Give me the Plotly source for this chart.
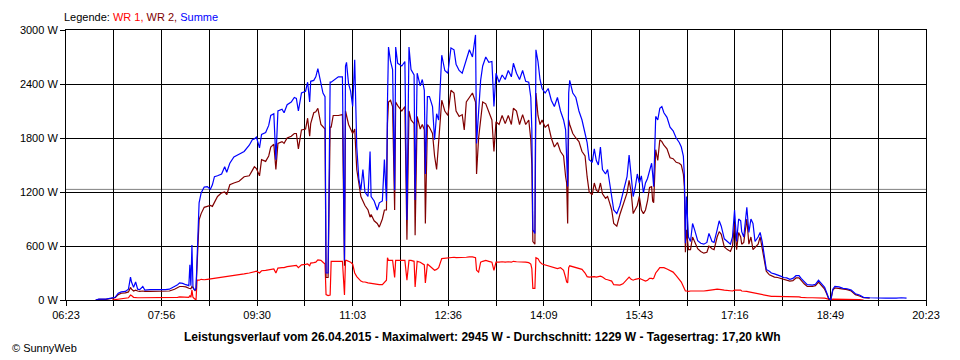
import plotly.graph_objects as go

DATE = "2015-04-26"

TIMES = [
    "06:52","06:55","07:02","07:08","07:11","07:14","07:17","07:21","07:24","07:26",
    "07:27","07:29","07:31","07:33","07:35","07:38","07:40","07:45","07:50","07:55",
    "08:00","08:04","08:09","08:12","08:14","08:17","08:20","08:23","08:24","08:25",
    "08:26","08:27","08:28","08:29","08:30","08:31","08:32","08:33","08:35","08:38",
    "08:41","08:44","08:46","08:48","08:51","08:55","08:58","09:00","09:03","09:07",
    "09:12","09:17","09:22","09:25","09:27","09:29","09:32","09:34","09:38","09:41",
    "09:43","09:46","09:48","09:50","09:54","09:56","09:59","10:03","10:06","10:08",
    "10:10","10:13","10:17","10:19","10:21","10:22","10:25","10:27","10:29","10:32",
    "10:34","10:36","10:37","10:39","10:41","10:42","10:44","10:49","10:53","10:55",
    "10:56","10:57","10:59","11:01","11:03","11:05","11:07","11:09","11:11","11:13",
    "11:15","11:18","11:20","11:21","11:24","11:27","11:29","11:32","11:34","11:36",
    "11:37","11:38","11:40","11:42","11:44","11:45","11:47","11:51","11:54","11:56",
    "11:58","12:00","12:03","12:04","12:06","12:09","12:11","12:13","12:14","12:16",
    "12:18","12:21","12:23","12:25","12:27","12:30","12:33","12:36","12:39","12:42",
    "12:44","12:47","12:50","12:52","12:54","12:57","13:00","13:03","13:04","13:06",
    "13:08","13:10","13:13","13:16","13:19","13:21","13:23","13:26","13:29","13:32",
    "13:35","13:38","13:40","13:43","13:46","13:49","13:52","13:55","13:57","13:58",
    "13:59","14:01","14:02","14:04","14:06","14:08","14:11","14:14","14:17","14:20",
    "14:23","14:26","14:29","14:31","14:32","14:33","14:34","14:35","14:38","14:41",
    "14:44","14:47","14:50","14:52","14:54","14:57","14:59","15:01","15:03","15:05",
    "15:07","15:10","15:12","15:14","15:16","15:18","15:21","15:24","15:27","15:30",
    "15:31","15:33","15:35","15:37","15:39","15:41","15:43","15:45","15:47","15:49",
    "15:51","15:53","15:55","15:56","15:57","15:59","16:01","16:03","16:05","16:07",
    "16:10","16:13","16:16","16:19","16:22","16:24","16:26","16:27","16:28","16:29",
    "16:31","16:33","16:35","16:37","16:40","16:43","16:46","16:49","16:51","16:54",
    "16:56","16:59","17:01","17:03","17:06","17:09","17:12","17:14","17:16","17:18",
    "17:20","17:22","17:23","17:25","17:28","17:30","17:32","17:34","17:36","17:39",
    "17:41","17:43","17:45","17:47","17:50","17:52","17:55","17:58","18:01","18:04",
    "18:07","18:10","18:13","18:16","18:19","18:21","18:24","18:27","18:32","18:35",
    "18:38","18:41","18:44","18:46","18:48","18:50","18:52","18:54","18:58","19:02",
    "19:06","19:10","19:14","19:18","19:22","19:28","19:35","19:44","19:54","19:59","20:04",
]

SUMME = [
    0,10,10,20,30,75,90,95,120,255,
    200,140,200,120,115,150,110,115,115,110,
    115,120,150,170,190,185,170,160,390,160,
    610,150,120,110,130,450,850,1080,1190,1255,
    1260,1230,1280,1370,1380,1400,1480,1420,1520,1590,
    1620,1650,1720,1780,1790,1810,1690,1840,1860,1940,
    2050,2070,1560,2100,2120,2080,2170,2200,2250,2240,
    2100,2300,2320,2420,2200,2430,2440,2480,2570,2400,
    2300,2260,300,300,2420,2420,2440,2480,2480,440,
    2600,2640,2400,2320,2150,2670,1700,1350,1220,1450,
    1200,1150,1650,1150,1100,1000,1080,1100,1560,1100,
    2200,2810,2650,2560,1220,2810,2630,2600,2650,890,
    2810,2560,2500,1110,2520,2380,2450,2330,1400,2260,
    2260,2150,1780,2070,2000,2720,2550,2520,2800,2780,
    2620,2550,2520,2600,2650,2780,2700,2945,1740,2100,
    2440,2600,2700,2640,2650,2150,2520,2420,2500,2450,
    2550,2480,2630,2520,2450,2550,2430,2420,2250,1900,
    780,740,2780,2650,2450,2350,2300,2350,2220,2150,
    2250,2100,2000,1890,1650,1260,2300,2440,2300,2250,
    2100,2000,1850,1750,1560,1530,1680,1550,1500,1700,
    1450,1400,1450,1300,1150,1000,960,1050,1190,1330,
    1370,1610,1370,1150,1250,1400,1300,1380,1190,1300,
    1350,1450,1520,1400,1260,2040,2000,2130,2150,2080,
    2030,1920,1880,1800,1750,1700,1600,1380,630,1150,
    700,650,850,780,660,630,620,640,740,650,
    640,780,880,820,680,650,620,700,1000,650,
    900,880,760,700,1030,750,900,850,650,700,
    750,650,500,340,320,300,290,280,265,250,
    245,230,240,270,270,240,200,170,165,175,
    220,180,140,80,20,0,120,150,145,130,
    125,110,70,55,30,25,20,20,20,25,20,
]

WR2 = [
    0,8,8,15,25,60,75,80,90,140,
    120,100,110,100,95,100,95,95,95,95,
    100,100,120,140,150,150,145,130,130,125,
    150,130,110,105,120,350,700,890,960,1030,
    1040,1050,1040,1080,1150,1190,1200,1170,1280,1300,
    1320,1370,1380,1440,1480,1460,1380,1560,1540,1600,
    1700,1730,1450,1740,1760,1740,1800,1820,1850,1850,
    1680,1890,1900,2020,1820,1960,2080,2090,2130,1950,
    1920,1900,250,250,1920,1920,2050,2050,2060,380,
    2100,2050,1950,1900,1850,1900,1450,1300,1150,1100,
    1050,1000,920,950,880,850,810,900,1000,1000,
    1960,2200,2220,2150,1000,2200,2160,2100,2150,670,
    2100,2000,1960,720,2040,1900,1950,1890,850,1950,
    1920,1850,1600,1450,1800,2220,2100,2050,2330,2300,
    2100,2040,2060,1890,2200,2250,2300,2200,1400,1800,
    2000,2200,2180,2100,2000,1650,1980,1950,2050,1960,
    2050,1950,2130,2100,1950,2060,1950,2000,1780,1500,
    650,620,2300,2050,1950,2000,1920,1950,1800,1700,
    1750,1650,1600,1370,1300,850,2000,1950,1850,1800,
    1760,1650,1600,1370,1200,1170,1300,1220,1200,1300,
    1180,1130,1150,1080,1000,850,820,950,1050,1150,
    1190,1330,1200,960,1000,1050,1150,1000,960,1000,
    1100,1250,1260,1100,1080,1670,1550,1780,1760,1720,
    1680,1580,1570,1530,1520,1500,1400,1260,530,780,
    560,560,700,640,570,540,520,530,600,570,
    560,700,760,730,590,560,540,600,850,560,
    750,700,620,640,900,620,700,560,580,620,
    700,580,460,320,280,270,255,250,240,225,
    215,210,215,245,245,215,180,150,150,160,
    200,160,120,70,10,0,110,135,130,120,
    115,100,60,45,25,20,None,None,None,None,None,
]

WR1 = [
    None,None,None,0,5,15,20,20,25,55,
    50,30,25,25,25,25,25,25,25,25,
    25,25,30,30,35,35,30,30,50,30,
    110,30,20,5,0,220,220,220,230,225,
    230,235,235,240,240,245,250,255,260,270,
    280,290,300,310,315,320,300,325,330,335,
    340,345,300,355,360,360,370,375,380,385,
    360,390,395,400,380,410,415,420,445,440,
    420,400,60,50,55,430,430,430,430,55,
    440,440,430,420,400,300,260,230,210,200,
    200,190,185,185,180,175,170,170,200,220,
    470,440,440,440,250,440,440,440,440,220,
    440,440,430,145,430,420,400,390,190,400,
    380,350,330,340,360,460,465,470,470,475,
    470,470,475,470,475,480,480,470,330,310,
    420,430,440,430,420,330,420,420,425,420,
    425,420,430,425,425,420,420,415,400,350,
    130,130,470,460,420,400,390,380,370,360,
    350,360,330,250,200,190,360,380,370,360,
    350,340,300,260,255,260,260,255,260,265,
    255,230,225,220,210,170,165,165,180,220,
    240,255,230,220,230,235,240,230,220,210,
    220,240,240,235,240,300,330,360,360,360,
    345,330,310,270,230,200,150,110,100,100,
    95,100,100,100,95,95,100,105,110,110,
    115,120,120,115,110,105,100,100,110,110,
    110,110,100,100,95,90,85,80,75,70,
    65,60,55,45,40,40,40,40,40,40,
    35,35,35,35,35,30,25,25,25,25,
    25,20,20,15,5,0,10,10,10,10,
    10,10,10,5,0,None,None,None,None,None,None,
]

AVERAGE_W = 1229
Y_TICKS = [0, 600, 1200, 1800, 2400, 3000]
Y_LABELS = ["0 W", "600 W", "1200 W", "1800 W", "2400 W", "3000 W"]
X_GRID = ["06:23:00", "07:09:40", "07:56:20", "08:43:00", "09:29:40", "10:16:20",
          "11:03:00", "11:49:40", "12:36:20", "13:23:00", "14:09:40", "14:56:20",
          "15:43:00", "16:29:40", "17:16:20", "18:03:00", "18:49:40", "19:36:20",
          "20:23:00"]
X_LABELS = ["06:23", "", "07:56", "", "09:30", "", "11:03", "", "12:36", "",
            "14:09", "", "15:43", "", "17:16", "", "18:49", "", "20:23"]
TITLE = ("Leistungsverlauf vom 26.04.2015 - Maximalwert: 2945 W - "
         "Durchschnitt: 1229 W - Tagesertrag: 17,20 kWh")

FONT = "Liberation Sans, Arial, sans-serif"

x = [f"{DATE} {t}" for t in TIMES]

fig = go.Figure()
fig.add_trace(go.Scatter(x=x, y=WR1, mode="lines", name="WR 1",
                         line=dict(color="#FF0000", width=1.2)))
fig.add_trace(go.Scatter(x=x, y=WR2, mode="lines", name="WR 2",
                         line=dict(color="#800000", width=1.2)))
fig.add_trace(go.Scatter(x=x, y=SUMME, mode="lines", name="Summe",
                         line=dict(color="#0000FF", width=1.2)))

fig.add_shape(type="line", xref="paper", x0=0, x1=1, yref="y",
              y0=AVERAGE_W, y1=AVERAGE_W, line=dict(color="#808080", width=1),
              layer="below")

axis_common = dict(
    showgrid=True, gridcolor="#000000", gridwidth=1,
    showline=True, linecolor="#000000", linewidth=1, mirror=True,
    ticks="outside", ticklen=5, tickcolor="#000000", tickwidth=1,
    zeroline=False, tickfont=dict(family=FONT, size=11, color="#000000"),
)

# The page body has an 8px margin; the figure is offset accordingly.
fig.update_layout(
    width=944, height=352,
    margin=dict(l=52, r=22, t=22, b=60),
    paper_bgcolor="#FFFFFF", plot_bgcolor="#FFFFFF",
    showlegend=False,
    font=dict(family=FONT, size=11, color="#000000"),
    xaxis=dict(type="date",
               range=[f"{DATE} {X_GRID[0]}", f"{DATE} {X_GRID[-1]}"],
               tickmode="array",
               tickvals=[f"{DATE} {g}" for g in X_GRID],
               ticktext=X_LABELS, **axis_common),
    yaxis=dict(range=[0, 3000], tickmode="array", tickvals=Y_TICKS,
               ticktext=Y_LABELS, **axis_common),
    annotations=[
        dict(xref="paper", yref="paper", x=-4 / 870, y=1 + 13 / 270,
             xanchor="left", yanchor="middle", showarrow=False,
             text=("Legende: <span style='color:#FF0000'>WR 1,</span> "
                   "<span style='color:#800000'>WR 2,</span> "
                   "<span style='color:#0000FF'>Summe</span>"),
             font=dict(family=FONT, size=11, color="#000000")),
        dict(xref="paper", yref="paper", x=(481 - 60) / 870, y=-37 / 270,
             xanchor="center", yanchor="middle", showarrow=False,
             text=f"<b>{TITLE}</b>",
             font=dict(family=FONT, size=12, color="#000000")),
        dict(xref="paper", yref="paper", x=(3 - 60) / 870, y=-48 / 270,
             xanchor="left", yanchor="middle", showarrow=False,
             text="© SunnyWeb",
             font=dict(family=FONT, size=11, color="#000000")),
    ],
)

fig.write_html("out.html")
